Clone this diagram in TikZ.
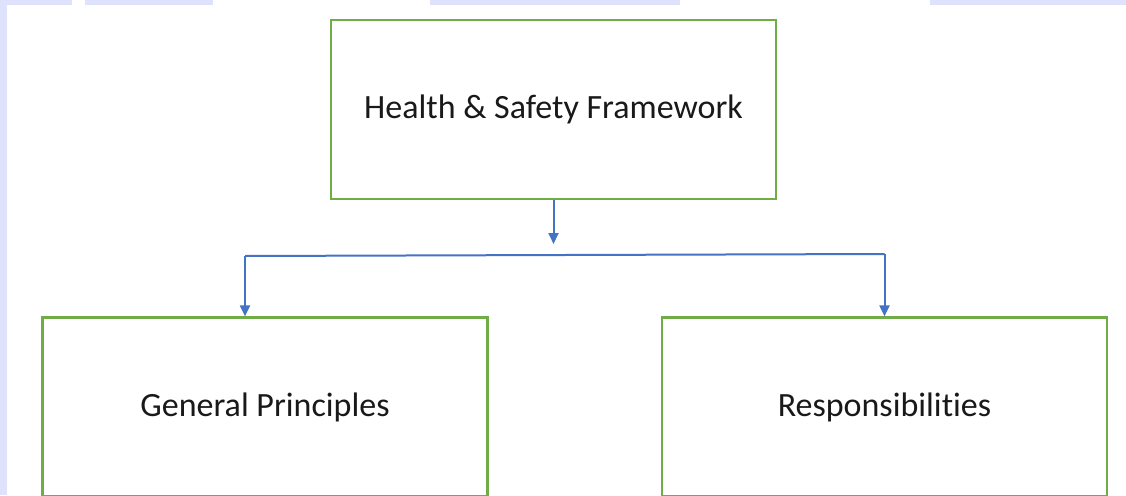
\documentclass[tikz,border=0pt]{standalone}
\usepackage{fontspec}
\setmainfont[Ligatures=NoCommon]{Carlito}
\usetikzlibrary{arrows.meta}
\definecolor{hs_green}{RGB}{112, 173, 71}
\definecolor{hs_blue}{RGB}{68, 114, 196}
\definecolor{hs_mark}{RGB}{222, 226, 252}
\tikzstyle{box}=[rectangle,draw=hs_green,fill=white,line width=2.2pt,
  minimum width=445pt,minimum height=179pt,inner sep=0pt,
  font=\fontsize{34}{40}\selectfont,text=black!90]
\tikzstyle{arr}=[draw=hs_blue,line width=2pt,-{Triangle[length=11pt,width=10pt]}]
\tikzstyle{ln}=[draw=hs_blue,line width=2pt]

\begin{document}
\begin{tikzpicture}[x=1pt,y=-1pt]
    \useasboundingbox (0,0) rectangle (1126,495);
    % faint marks along the edges
    \fill[hs_mark] (0,0) rectangle (7,495);
    \fill[hs_mark] (0,0) rectangle (72,5);
    \fill[hs_mark] (85,0) rectangle (213,5);
    \fill[hs_mark] (430,0) rectangle (680,5);
    \fill[hs_mark] (930,0) rectangle (1126,5);
    \node [style=box] (hs) at (553.5,109.5) {Health \& Safety Framework};
    \node [style=box] (gp) at (265,407) {General Principles};
    \node [style=box] (rs) at (884.5,407) {Responsibilities};
    \coordinate (mid) at (553.5,244);
    \coordinate (lc) at (245,256);
    \coordinate (rc) at (884.5,254);
    \draw [style=arr] (hs.south -| mid) to (mid);
    \draw [style=ln] (lc) to (rc);
    \draw [style=arr] (lc) to (lc |- gp.north);
    \draw [style=arr] (rc) to (rc |- rs.north);
  \end{tikzpicture}
\end{document}
